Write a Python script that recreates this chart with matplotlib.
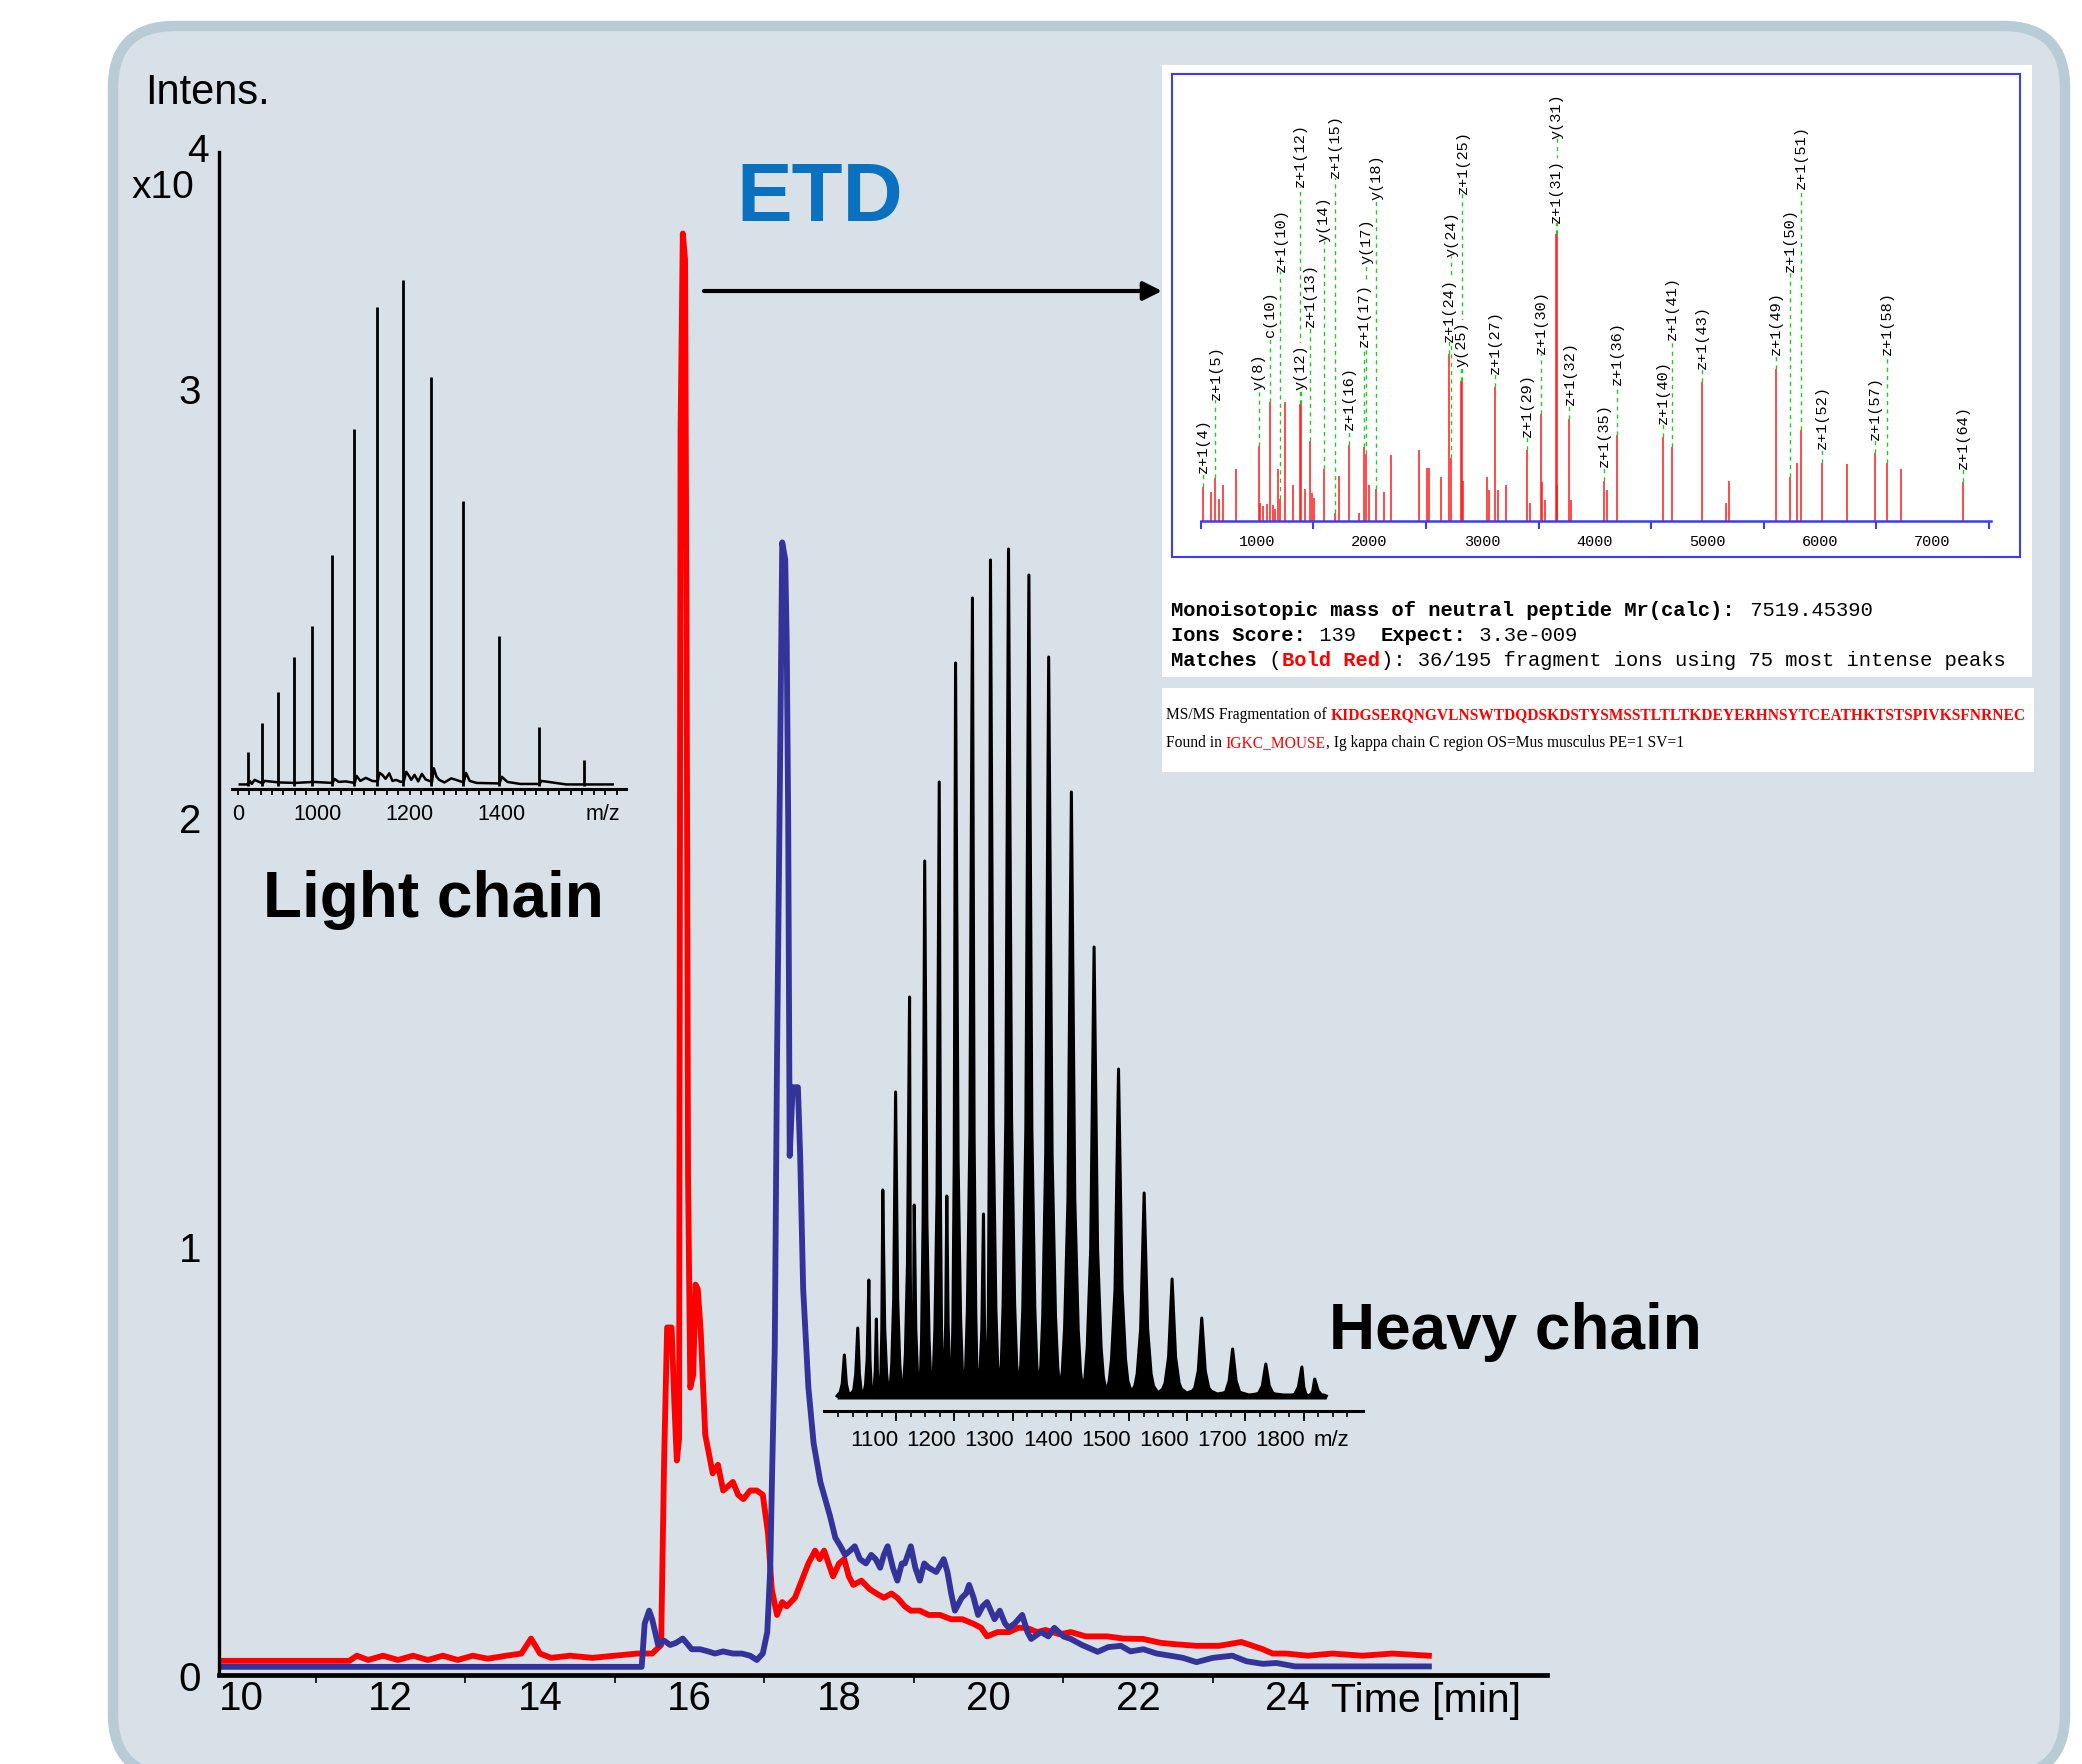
import matplotlib
matplotlib.use("Agg")
import matplotlib.pyplot as plt
from matplotlib.patches import FancyBboxPatch, Rectangle
from matplotlib.transforms import blended_transform_factory

plt.rcParams['font.family'] = ['Liberation Sans', 'DejaVu Sans']

W, H = 2082, 1765
DPI = 100

# ---- chromatogram: light chain (red) / heavy chain (blue), Intens. x10^4 vs min
red_time = [9.73, 11.45, 11.55, 11.7, 11.9, 12.1, 12.3, 12.5, 12.7, 12.9, 13.1, 13.3, 13.55,
            13.75, 13.88, 14.0, 14.15, 14.4, 14.7, 15.0, 15.3, 15.5, 15.62, 15.66, 15.70,
            15.76, 15.80, 15.83, 15.86, 15.88, 15.91, 15.94, 15.96, 15.98, 16.01, 16.05,
            16.08, 16.11, 16.15, 16.21, 16.31, 16.38, 16.45, 16.58, 16.65, 16.72, 16.81,
            16.90, 16.98, 17.05, 17.10, 17.17, 17.24, 17.30, 17.41, 17.50, 17.59, 17.68,
            17.74, 17.80, 17.86, 17.92, 18.00, 18.07, 18.13, 18.19, 18.30, 18.41, 18.50,
            18.60, 18.70, 18.78, 18.88, 18.96, 19.08, 19.20, 19.35, 19.50, 19.65, 19.79,
            19.90, 19.98, 20.12, 20.27, 20.40, 20.51, 20.65, 20.76, 20.95, 21.10, 21.30,
            21.59, 21.80, 22.07, 22.30, 22.48, 22.78, 23.08, 23.25, 23.38, 23.50, 23.67,
            23.80, 23.98, 24.27, 24.60, 25.00, 25.40, 25.89]
red_int = [0.033, 0.033, 0.045, 0.035, 0.045, 0.035, 0.045, 0.035, 0.045, 0.035, 0.045, 0.038,
           0.045, 0.05, 0.085, 0.05, 0.04, 0.045, 0.04, 0.045, 0.05, 0.05, 0.07, 0.50, 0.81,
           0.81, 0.62, 0.50, 0.55, 2.90, 3.36, 3.30, 2.46, 1.17, 0.67, 0.70, 0.91, 0.90, 0.80,
           0.56, 0.47, 0.49, 0.43, 0.45, 0.42, 0.41, 0.43, 0.43, 0.42, 0.33, 0.20, 0.14, 0.17,
           0.16, 0.18, 0.22, 0.26, 0.29, 0.27, 0.29, 0.26, 0.23, 0.26, 0.27, 0.23, 0.21, 0.22,
           0.20, 0.19, 0.18, 0.19, 0.18, 0.16, 0.15, 0.15, 0.14, 0.14, 0.13, 0.13, 0.12, 0.11,
           0.09, 0.10, 0.10, 0.11, 0.11, 0.10, 0.105, 0.095, 0.10, 0.09, 0.09, 0.085, 0.084,
           0.075, 0.072, 0.068, 0.068, 0.073, 0.077, 0.07, 0.06, 0.05, 0.05, 0.045, 0.05,
           0.045, 0.05, 0.045]
blue_time = [9.73, 15.36, 15.40, 15.46, 15.50, 15.58, 15.66, 15.74, 15.82, 15.91, 16.03, 16.14,
             16.25, 16.34, 16.45, 16.58, 16.70, 16.81, 16.90, 16.98, 17.04, 17.08, 17.10,
             17.14, 17.17, 17.21, 17.24, 17.28, 17.30, 17.32, 17.34, 17.38, 17.45, 17.48,
             17.52, 17.59, 17.66, 17.75, 17.88, 17.95, 18.02, 18.08, 18.15, 18.21, 18.28,
             18.36, 18.43, 18.49, 18.55, 18.60, 18.65, 18.72, 18.78, 18.84, 18.88, 18.96,
             19.02, 19.08, 19.14, 19.20, 19.30, 19.40, 19.45, 19.50, 19.55, 19.64, 19.70,
             19.74, 19.80, 19.86, 19.92, 19.98, 20.08, 20.15, 20.22, 20.27, 20.35, 20.45,
             20.52, 20.57, 20.70, 20.80, 20.88, 21.00, 21.10, 21.25, 21.46, 21.60, 21.77,
             21.90, 22.07, 22.25, 22.43, 22.60, 22.78, 23.00, 23.26, 23.45, 23.67, 23.85,
             24.10, 25.89]
blue_int = [0.019, 0.019, 0.12, 0.15, 0.13, 0.07, 0.08, 0.07, 0.075, 0.085, 0.06, 0.06, 0.055,
            0.05, 0.055, 0.05, 0.05, 0.045, 0.035, 0.05, 0.10, 0.25, 0.43, 0.76, 1.43, 2.10,
            2.64, 2.60, 2.41, 1.99, 1.21, 1.37, 1.37, 1.21, 0.90, 0.67, 0.54, 0.45, 0.37, 0.32,
            0.30, 0.28, 0.29, 0.30, 0.27, 0.26, 0.28, 0.27, 0.25, 0.28, 0.30, 0.25, 0.22, 0.26,
            0.26, 0.30, 0.25, 0.22, 0.26, 0.25, 0.24, 0.27, 0.24, 0.19, 0.15, 0.18, 0.19, 0.21,
            0.18, 0.14, 0.16, 0.17, 0.13, 0.15, 0.12, 0.11, 0.12, 0.14, 0.10, 0.084, 0.10, 0.09,
            0.11, 0.09, 0.084, 0.07, 0.054, 0.065, 0.068, 0.055, 0.06, 0.05, 0.045, 0.04, 0.03,
            0.04, 0.045, 0.032, 0.026, 0.028, 0.02, 0.02]
time_ticks = [10, 12, 14, 16, 18, 20, 22, 24]
time_minor = [11, 13, 15, 17, 19, 21, 23]
intens_ticks = [0, 1, 2, 3]

# ---- light chain MS spectrum (m/z, rel. intensity %)
lc_mz = [848, 878, 913, 948, 987, 1030, 1078, 1128, 1185, 1246, 1315, 1393, 1480, 1578]
lc_int = [6.7, 12.5, 18.6, 25.5, 31.6, 45.7, 70.6, 94.7, 100, 80.8, 56.3, 29.6, 11.7, 5.1]
lc_floor_mz = [830, 846, 852, 856, 862, 880, 884, 915, 950, 990, 1032, 1036, 1045, 1060, 1080,
               1084, 1092, 1104, 1118, 1130, 1134, 1140, 1147, 1155, 1162, 1170, 1180, 1187,
               1192, 1198, 1203, 1210, 1218, 1226, 1234, 1248, 1252, 1258, 1264, 1275, 1290,
               1317, 1322, 1330, 1345, 1395, 1400, 1412, 1440, 1482, 1486, 1540, 1580, 1600,
               1641]
lc_floor_int = [0.3, 0.3, 1.0, 0.4, 1.2, 0.5, 1.0, 0.7, 0.6, 0.8, 0.6, 1.4, 0.8, 0.9, 0.6,
                2.0, 1.0, 1.6, 1.0, 0.9, 2.6, 2.2, 1.4, 2.5, 1.0, 1.2, 0.8, 1.0, 2.8, 2.0, 1.2,
                2.2, 0.9, 2.4, 1.3, 0.8, 3.5, 1.8, 1.2, 0.7, 1.5, 0.7, 2.6, 1.0, 0.6, 0.5, 1.8,
                0.8, 0.4, 0.4, 1.0, 0.3, 0.3, 0.3, 0.3]
lc_tick_mz = [826, 1000, 1200, 1400]
lc_tick_lab = ["0", "1000", "1200", "1400"]

# ---- heavy chain MS spectrum (m/z, intensity a.u.)
hc_mz = [1011, 1034, 1053, 1066, 1077, 1099, 1123, 1131, 1149, 1174, 1187, 1202, 1231, 1250,
         1262, 1293, 1328, 1362, 1401, 1440, 1482, 1526, 1574, 1625, 1678, 1735, 1797, 1819]
hc_int = [44, 71, 119, 80, 209, 307, 402, 194, 538, 617, 203, 736, 801, 185, 839, 850, 824,
          742, 607, 452, 330, 206, 120, 81, 50, 35, 32, 20]
hc_mid = [15, 25, 40, 28, 70, 100, 135, 70, 180, 205, 75, 240, 265, 70, 275, 280, 270, 245,
          200, 150, 110, 70, 42, 28, 18, 13, 12, 8]
hc_base = [6, 9, 14, 11, 25, 35, 45, 28, 60, 70, 32, 80, 88, 32, 90, 95, 90, 83, 70, 52, 40,
           25, 16, 11, 7, 6, 5, 4]
hc_foot = [5, 7, 9, 9, 12, 16, 20, 16, 24, 28, 18, 30, 32, 18, 34, 35, 34, 32, 28, 22, 18, 13,
           10, 8, 6, 5, 4, 4]
hc_trough = [3, 5, 6, 6, 6, 7, 7, 8, 8, 8, 8, 8, 8, 8, 8, 8, 8, 8, 8, 8, 7, 7, 6, 6, 5, 4, 4,
             3, 3]
hc_tick_mz = [1100, 1200, 1300, 1400, 1500, 1600, 1700, 1800]

# ---- ETD MS/MS spectrum (Mascot)
ms_ion = ["z+1(4)", "z+1(5)", "y(8)", "c(10)", "z+1(10)", "y(12)", "z+1(12)", "z+1(13)",
          "y(14)", "z+1(15)", "z+1(16)", "z+1(17)", "y(17)", "y(18)", "z+1(24)", "y(24)",
          "y(25)", "z+1(25)", "z+1(27)", "z+1(29)", "z+1(30)", "z+1(31)", "y(31)", "z+1(32)",
          "z+1(35)", "z+1(36)", "z+1(40)", "z+1(41)", "z+1(43)", "z+1(49)", "z+1(50)",
          "z+1(51)", "z+1(52)", "z+1(57)", "z+1(58)", "z+1(64)"]
ms_ion_mz = [523, 631, 1016, 1114, 1208, 1390, 1383, 1469, 1592, 1691, 1814, 1952, 1972, 2060,
             2701, 2726, 2814, 2824, 3115, 3401, 3524, 3652, 3662, 3775, 4081, 4199, 4608, 4687,
             4953, 5609, 5732, 5830, 6018, 6486, 6594, 7269]
ms_ion_int = [11.9, 15.1, 26.2, 41.3, 7.6, 40.7, 40.7, 27.9, 18.0, 2.9, 26.4, 25.9, 23.3, 11.0,
              58.1, 22.1, 48.8, 48.8, 46.7, 24.8, 37.2, 100, 100, 35.5, 14.0, 29.9, 29.4, 25.9,
              48.5, 52.9, 15.3, 31.6, 20.3, 23.6, 20.3, 13.6]
ms_other_mz = [592, 666, 700, 814, 1026, 1050, 1090, 1139, 1159, 1183, 1247, 1321, 1430, 1484,
               1508, 1730, 1903, 1991, 2124, 2193, 2440, 2514, 2529, 2632, 2829, 3046, 3061,
               3140, 3209, 3425, 3534, 3559, 3667, 3785, 4111, 5165, 5195, 5796, 6239, 6717]
ms_other_int = [10.1, 7.8, 12.4, 18.0, 6.4, 5.2, 5.8, 5.6, 4.1, 18.0, 41.3, 12.4, 11.0, 9.9,
                8.1, 15.7, 2.9, 12.4, 10.2, 22.9, 24.8, 18.6, 18.6, 15.3, 14.0, 15.3, 10.7,
                10.7, 12.4, 6.4, 13.4, 7.3, 12.4, 7.3, 10.7, 6.4, 14.0, 20.3, 19.8, 18.0]
ms_tick_lab = [1000, 2000, 3000, 4000, 5000, 6000, 7000]
ms_tick_marks = [500, 1500, 2500, 3500, 4500, 5500, 6500, 7500]

# label placement (height of label foot, in % of base peak)
ms_label_foot = [16.9, 42.4, 45.9, 64.5, 87.2, 45.9, 116.9, 68.0, 97.7, 119.8, 32.0, 61.0,
                 90.1, 112.2, 62.8, 92.4, 54.1, 114.5, 51.7, 29.7, 58.7, 104.1, 133.7, 40.7,
                 19.2, 47.7, 34.3, 63.4, 53.5, 58.1, 87.2, 116.3, 25.6, 28.5, 58.1, 18.6]

fig = plt.figure(figsize=(W / DPI, H / DPI), dpi=DPI)
fig.patch.set_facecolor("white")
bg = fig.add_axes([0, 0, 1, 1])
bg.set_xlim(0, W)
bg.set_ylim(H, 0)
bg.axis("off")


def px_axes(x0, y0, x1, y1):
    a = fig.add_axes([x0 / W, 1 - y1 / H, (x1 - x0) / W, (y1 - y0) / H])
    a.patch.set_alpha(0)
    return a


# rounded panel
bg.add_patch(FancyBboxPatch((113, 27), 1952, 1750,
                            boxstyle="round,pad=0,rounding_size=62",
                            facecolor="#d9e1e8", edgecolor="#b9cbd4", lw=7.5))

# ---- main chromatogram
ax = px_axes(219, 153, 1547, 1676)
ax.plot(red_time, red_int, color="#ff0000", lw=4.2)
ax.plot(blue_time, blue_int, color="#333399", lw=4.2)
ax.set_xlim(9.706, 27.47)
ax.set_ylim(0, 3.55)
for s in ["top", "right"]:
    ax.spines[s].set_visible(False)
ax.spines["left"].set_linewidth(2.4)
ax.spines["bottom"].set_linewidth(3.4)
ax.set_xticks(time_ticks)
ax.set_xticklabels([str(t) for t in time_ticks], fontsize=29)
ax.set_xticks(time_minor, minor=True)
ax.xaxis.remove_overlapping_locs = False
ax.tick_params(axis="x", which="major", length=0, pad=3)
ax.tick_params(axis="x", which="minor", length=6, width=1.2, direction="out")
ax.set_yticks(intens_ticks)
ax.set_yticklabels([str(t) for t in intens_ticks], fontsize=29)
ax.tick_params(axis="y", length=0, pad=13)

bg.text(1331, 1701, "Time [min]", fontsize=29.5, ha="left", va="center")
bg.text(145, 93, "Intens.", fontsize=30, ha="left", va="center")
bg.text(163, 188, "x10", fontsize=28, ha="center", va="center")
bg.text(198, 152, "4", fontsize=28, ha="center", va="center")
bg.text(820, 199, "ETD", fontsize=60, weight="bold", color="#0a70c0", ha="center", va="center")
bg.text(263, 900, "Light chain", fontsize=46, weight="bold", ha="left", va="center")
bg.text(1329, 1332, "Heavy chain", fontsize=46, weight="bold", ha="left", va="center")
bg.annotate("", xy=(1162, 292), xytext=(704, 292),
            arrowprops=dict(arrowstyle="-|>", lw=3, color="black", mutation_scale=28,
                            shrinkA=0, shrinkB=0))

# ---- light chain inset
ax_lc = px_axes(232, 270, 626, 790)
ax_lc.plot(lc_floor_mz, lc_floor_int, color="black", lw=1.8)
ax_lc.vlines(lc_mz, 0, lc_int, color="black", lw=2.0)
ax_lc.set_xlim(813, 1670)
ax_lc.set_ylim(-0.6, 102.2)
for s in ["top", "right", "left"]:
    ax_lc.spines[s].set_visible(False)
ax_lc.spines["bottom"].set_linewidth(2.2)
ax_lc.set_yticks([])
ax_lc.set_xticks([m for m in range(825, 1651, 25)])
ax_lc.set_xticklabels([])
ax_lc.tick_params(axis="x", length=4, width=1.3, direction="out")
tr_lc = blended_transform_factory(ax_lc.transData, bg.transData)
for m, lab in zip(lc_tick_mz, lc_tick_lab):
    ax_lc.text(m, 815, lab, transform=tr_lc, fontsize=15.5, ha="center", va="center")
bg.text(603, 815, "m/z", fontsize=15.5, ha="center", va="center")

# ---- heavy chain inset
ax_hc = px_axes(824, 530, 1363, 1412)
prof_x, prof_y = [], []
n = len(hc_mz)
for i, m in enumerate(hc_mz):
    gl = m - hc_mz[i - 1] if i > 0 else 25
    gr = hc_mz[i + 1] - m if i < n - 1 else 40
    prof_x += [m - gl / 2, m - min(16, 0.4 * gl), m - min(12, 0.3 * gl), m - min(6, 0.15 * gl),
               m, m + min(6, 0.15 * gr), m + min(12, 0.3 * gr), m + min(16, 0.4 * gr)]
    prof_y += [hc_trough[i], hc_foot[i], hc_base[i], hc_mid[i], hc_int[i], hc_mid[i],
               hc_base[i], hc_foot[i]]
prof_x.append(hc_mz[-1] + 20)
prof_y.append(hc_trough[-1])
ax_hc.fill_between(prof_x, 0, prof_y, color="black", lw=0)
ax_hc.plot(prof_x, prof_y, color="black", lw=2.2, solid_joinstyle="round")
ax_hc.set_xlim(976, 1902)
ax_hc.set_ylim(-12, 870)
for s in ["top", "right", "left"]:
    ax_hc.spines[s].set_visible(False)
ax_hc.spines["bottom"].set_linewidth(2.2)
ax_hc.set_yticks([])
ax_hc.set_xticks(hc_tick_mz)
ax_hc.set_xticklabels([])
ax_hc.set_xticks([m for m in range(1000, 1876, 25)], minor=True)
ax_hc.xaxis.remove_overlapping_locs = False
ax_hc.tick_params(axis="x", which="major", length=7, width=1.3, direction="out")
ax_hc.tick_params(axis="x", which="minor", length=4, width=1.2, direction="out")
tr_hc = blended_transform_factory(ax_hc.transData, bg.transData)
for m in hc_tick_mz:
    ax_hc.text(m + 3, 1441, str(m), transform=tr_hc, fontsize=16, ha="right", va="center")
bg.text(1331, 1441, "m/z", fontsize=16, ha="center", va="center")

# ---- MS/MS result boxes
bg.add_patch(Rectangle((1162, 66), 870, 612, facecolor="white", edgecolor="none"))
bg.add_patch(Rectangle((1162, 689), 872, 84, facecolor="white", edgecolor="none"))

ax_ms = px_axes(1172, 75, 2020, 558)
for s in ax_ms.spines.values():
    s.set_color("#3c3cf5")
    s.set_linewidth(1.5)
ax_ms.set_xticks([])
ax_ms.set_yticks([])
ax_ms.set_xlim(245, 7776)
ax_ms.set_ylim(-12.6, 155.9)
ax_ms.vlines(ms_other_mz, 0, ms_other_int, color="#ff1a1a", lw=1.1)
ax_ms.vlines(ms_ion_mz, 0, ms_ion_int, color="#ff1a1a", lw=1.1)
ax_ms.plot([500, 7520], [0, 0], color="#3c3cf5", lw=1.8)
ax_ms.vlines(ms_tick_marks, -2.8, 0, color="#3c3cf5", lw=1.5)
for name, m, h, foot in zip(ms_ion, ms_ion_mz, ms_ion_int, ms_label_foot):
    ax_ms.plot([m, m], [h, foot], color="#1fcc1f", lw=1.0, ls=(0, (3, 3)))
    ax_ms.text(m, foot, name, rotation=90, ha="center", va="bottom",
               family="Liberation Mono", fontsize=11,
               bbox=dict(facecolor="white", edgecolor="none", pad=0.3))
tr_ms = blended_transform_factory(ax_ms.transData, bg.transData)
for m in ms_tick_lab:
    ax_ms.text(m, 542, str(m), transform=tr_ms, family="Liberation Mono",
               fontsize=11, ha="center", va="center")

# Mascot summary lines (monospace)
fs_mono = 14.8
cw = 0.6 * fs_mono * DPI / 72


def mono_line(x, y, pieces):
    for s, wt, col in pieces:
        bg.text(x, y, s, family="Liberation Mono", fontsize=fs_mono, weight=wt,
                color=col, ha="left", va="center")
        x += len(s) * cw


mono_line(1171, 610, [("Monoisotopic mass of neutral peptide Mr(calc):", "bold", "black"),
                      (" 7519.45390", "normal", "black")])
mono_line(1171, 635, [("Ions Score:", "bold", "black"), (" 139  ", "normal", "black"),
                      ("Expect:", "bold", "black"), (" 3.3e-009", "normal", "black")])
mono_line(1171, 660, [("Matches", "bold", "black"), (" (", "normal", "black"),
                      ("Bold Red", "bold", "#ff0000"),
                      ("): 36/195 fragment ions using 75 most intense peaks", "normal", "black")])

# serif lines, sized to the box width
serif1 = [("MS/MS Fragmentation of ", "normal", "black"),
          ("KIDGSERQNGVLNSWTDQDSKDSTYSMSSTLTLTKDEYERHNSYTCEATHKTSTSPIVKSFNRNEC", "bold", "#ff0000")]
serif2 = [("Found in ", "normal", "black"), ("IGKC_MOUSE", "normal", "#ff0000"),
          (", Ig kappa chain C region OS=Mus musculus PE=1 SV=1", "normal", "black")]

fig.canvas.draw()
rend = fig.canvas.get_renderer()


def serif_line(x, y, pieces, fs):
    objs = []
    for s, wt, col in pieces:
        t = bg.text(x, y, s, family="Liberation Serif", fontsize=fs, weight=wt,
                    color=col, ha="left", va="center")
        bb = t.get_window_extent(renderer=rend)
        x = bb.x1
        objs.append(t)
    return x, objs


x_end, tmp = serif_line(1166, 715, serif1, 12)
width12 = x_end - 1166
for t in tmp:
    t.remove()
fs_serif = 12 * 861 / width12
serif_line(1166, 715, serif1, fs_serif)
serif_line(1166, 743, serif2, fs_serif)

fig.savefig("out.png", dpi=DPI, facecolor="white")
